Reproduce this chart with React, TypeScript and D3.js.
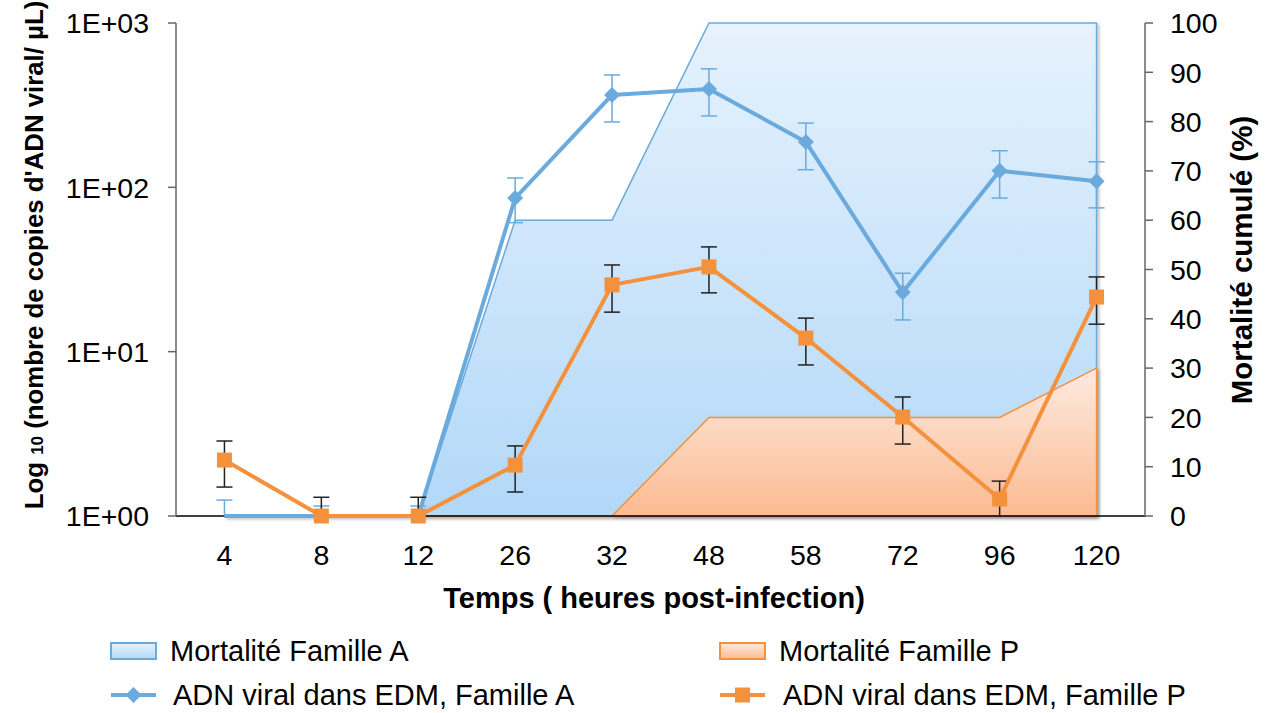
import React from "react";
import * as d3 from "d3";

const categories = ["4", "8", "12", "26", "32", "48", "58", "72", "96", "120"];
const mortA = [0, 0, 0, 60, 60, 100, 100, 100, 100, 100];
const mortP = [0, 0, 0, 0, 0, 20, 20, 20, 20, 30];
const dnaA = [1, 1, 1, 86, 365, 397, 189, 23, 126, 109];
const dnaAHigh = [1.25, 1.15, 1.15, 114, 483, 526, 246, 30, 167, 143];
const dnaALow = [1, 1, 1, 61, 250, 272, 128, 15.6, 86, 75];
const dnaP = [2.19, 1, 1, 2.04, 25.5, 32.8, 12.1, 4.0, 1.27, 21.5];
const dnaPHigh = [2.86, 1.3, 1.3, 2.67, 33.7, 43.4, 16, 5.3, 1.63, 28.5];
const dnaPLow = [1.5, 1, 1, 1.4, 17.4, 22.8, 8.3, 2.74, 1, 14.7];
const leftTicks = [1, 10, 100, 1000];
const leftTickLabels = ["1E+00", "1E+01", "1E+02", "1E+03"];
const rightTicks = [0, 10, 20, 30, 40, 50, 60, 70, 80, 90, 100];

const BLUE = "#6aaadd";
const ORANGE = "#f3913c";
const FONT = "'Liberation Sans', Arial, Helvetica, sans-serif";

export default function App() {
  const W = 1268, H = 713;
  const left = 176, right = 1145, top = 23, bottom = 516;
  const x = d3.scaleBand().domain(categories).range([left, right]).padding(0);
  const cx = (c: string) => (x(c) as number) + x.bandwidth() / 2;
  const yL = d3.scaleLog().domain([1, 1000]).range([bottom, top]);
  const yR = d3.scaleLinear().domain([0, 100]).range([bottom, top]);

  const area = d3
    .area<number>()
    .x((_, i) => cx(categories[i]))
    .y0(yR(0))
    .y1((d) => yR(d));
  const lineL = d3
    .line<number>()
    .x((_, i) => cx(categories[i]))
    .y((d) => yL(d));

  const capW = 8;
  const TICK_FS = 28.5;
  const LEG_FS = 29;

  return (
    <svg width={W} height={H} style={{ display: "block", position: "absolute", left: 0, top: 0 }} fontFamily={FONT}>
      <defs>
        <linearGradient id="gA" x1="0" y1="0" x2="0" y2="1">
          <stop offset="0" stopColor="#e6f2fd" />
          <stop offset="1" stopColor="#b2d8f8" />
        </linearGradient>
        <linearGradient id="gP" x1="0" y1="0" x2="0" y2="1">
          <stop offset="0" stopColor="#feeae0" />
          <stop offset="1" stopColor="#fbbb92" />
        </linearGradient>
        <filter id="sh" x="-5%" y="-5%" width="110%" height="110%">
          <feDropShadow dx="2" dy="2" stdDeviation="1.5" floodColor="#000" floodOpacity="0.25" />
        </filter>
      </defs>
      <rect width={W} height={H} fill="#fff" />

      {/* mortality areas */}
      <path d={area(mortA) || ""} fill="url(#gA)" stroke={BLUE} strokeWidth={1.5} filter="url(#sh)" />
      <path d={area(mortP) || ""} fill="url(#gP)" stroke={ORANGE} strokeWidth={1.5} filter="url(#sh)" />

      {/* axes */}
      <line x1={left} x2={right} y1={bottom} y2={bottom} stroke="#000" strokeWidth={1.5} />
      <line x1={left} x2={left} y1={top} y2={bottom} stroke="#666" strokeWidth={1.5} />
      <line x1={right} x2={right} y1={top} y2={bottom} stroke="#666" strokeWidth={1.5} />
      {leftTicks.map((t, i) => (
        <g key={"lt" + t}>
          <line x1={left - 8} x2={left} y1={yL(t)} y2={yL(t)} stroke="#666" strokeWidth={1.5} />
          <text x={149} y={yL(t)} dy="0.36em" textAnchor="end" fontSize={TICK_FS} fill="#000">
            {leftTickLabels[i]}
          </text>
        </g>
      ))}
      {rightTicks.map((t) => (
        <g key={"rt" + t}>
          <line x1={right} x2={right + 8} y1={yR(t)} y2={yR(t)} stroke="#666" strokeWidth={1.5} />
          <text x={1170} y={yR(t)} dy="0.36em" textAnchor="start" fontSize={TICK_FS} fill="#000">
            {t}
          </text>
        </g>
      ))}
      {categories.map((c) => (
        <text key={"xt" + c} x={cx(c)} y={565} textAnchor="middle" fontSize={TICK_FS} fill="#000">
          {c}
        </text>
      ))}

      {/* titles */}
      <text x={654} y={608} textAnchor="middle" fontSize={29} fontWeight="bold" fill="#000">
        Temps ( heures post-infection)
      </text>
      <text transform="translate(43,255) rotate(-90)" textAnchor="middle" fontSize={25.8} fontWeight="bold" fill="#000">
        Log <tspan fontSize={17}>10</tspan> (nombre de copies d'ADN viral/ µL)
      </text>
      <text transform="translate(1252,260) rotate(-90)" textAnchor="middle" fontSize={29.5} fontWeight="bold" fill="#000">
        Mortalité cumulé (%)
      </text>

      {/* Family A DNA */}
      {categories.map((c, i) => (
        <g key={"eA" + c} stroke={BLUE} strokeWidth={1.5}>
          <line x1={cx(c)} x2={cx(c)} y1={yL(dnaAHigh[i])} y2={yL(dnaALow[i])} />
          <line x1={cx(c) - capW} x2={cx(c) + capW} y1={yL(dnaAHigh[i])} y2={yL(dnaAHigh[i])} />
          {dnaALow[i] > 1 && <line x1={cx(c) - capW} x2={cx(c) + capW} y1={yL(dnaALow[i])} y2={yL(dnaALow[i])} />}
        </g>
      ))}
      <path d={lineL(dnaA) || ""} fill="none" stroke={BLUE} strokeWidth={4} strokeLinejoin="round" />
      {categories.map((c, i) =>
        dnaA[i] > 1 ? (
          <path
            key={"mA" + c}
            d={`M${cx(c)},${yL(dnaA[i]) - 8}L${cx(c) + 8},${yL(dnaA[i])}L${cx(c)},${yL(dnaA[i]) + 8}L${cx(c) - 8},${yL(dnaA[i])}Z`}
            fill={BLUE}
          />
        ) : null
      )}

      {/* Family P DNA */}
      {categories.map((c, i) => (
        <g key={"eP" + c} stroke="#222" strokeWidth={1.5}>
          <line x1={cx(c)} x2={cx(c)} y1={yL(dnaPHigh[i])} y2={yL(dnaPLow[i])} />
          <line x1={cx(c) - capW} x2={cx(c) + capW} y1={yL(dnaPHigh[i])} y2={yL(dnaPHigh[i])} />
          {dnaPLow[i] > 1 && <line x1={cx(c) - capW} x2={cx(c) + capW} y1={yL(dnaPLow[i])} y2={yL(dnaPLow[i])} />}
        </g>
      ))}
      <path d={lineL(dnaP) || ""} fill="none" stroke={ORANGE} strokeWidth={4} strokeLinejoin="round" />
      {categories.map((c, i) => (
        <rect key={"mP" + c} x={cx(c) - 7.5} y={yL(dnaP[i]) - 7.5} width={15} height={15} fill={ORANGE} />
      ))}

      {/* legend */}
      <rect x={111} y={643} width={45} height={16} fill="url(#gA)" stroke={BLUE} strokeWidth={2} />
      <text x={170} y={651} dy="0.36em" fontSize={LEG_FS} fill="#000">Mortalité Famille A</text>
      <line x1={111} x2={156} y1={695} y2={695} stroke={BLUE} strokeWidth={4} />
      <path d="M133.5,687L141.5,695L133.5,703L125.5,695Z" fill={BLUE} />
      <text x={173} y={695} dy="0.36em" fontSize={LEG_FS} fill="#000">ADN viral dans EDM, Famille A</text>

      <rect x={720} y={643} width={45} height={16} fill="url(#gP)" stroke={ORANGE} strokeWidth={2} />
      <text x={779} y={651} dy="0.36em" fontSize={LEG_FS} fill="#000">Mortalité Famille P</text>
      <line x1={720} x2={765} y1={695} y2={695} stroke={ORANGE} strokeWidth={4} />
      <rect x={735} y={687.5} width={15} height={15} fill={ORANGE} />
      <text x={783} y={695} dy="0.36em" fontSize={LEG_FS} fill="#000">ADN viral dans EDM, Famille P</text>
    </svg>
  );
}
